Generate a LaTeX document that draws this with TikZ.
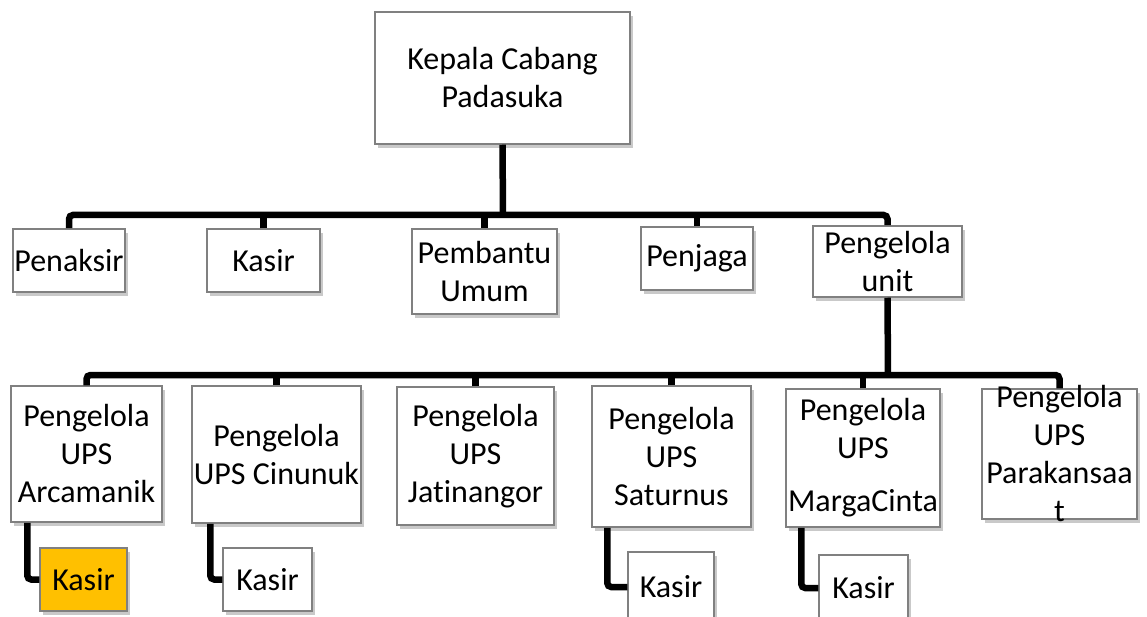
\documentclass[tikz,border=0pt]{standalone}
\usepackage{fontspec}
\setmainfont{Carlito}[Ligatures={NoCommon}]
\usetikzlibrary{shadows}
\definecolor{kasiryellow}{HTML}{FFC000}

\begin{document}
\begin{tikzpicture}[
    x=1pt, y=-1pt,
    every node/.style={font=\fontsize{32}{38}\selectfont, align=center},
    box/.style={rectangle, draw=black!50, line width=1.5pt, fill=white, inner sep=0pt,
                drop shadow={shadow xshift=3pt, shadow yshift=-4pt, fill=black!70, opacity=0.3}},
    cashier/.style={box, fill=kasiryellow},
    link/.style={line width=6.5pt, rounded corners=4pt},
]
    \useasboundingbox (0, 0) rectangle (1147, 617);
    % top
    \node[box, minimum width=255, minimum height=132] (kepala) at (502.5, 78) {Kepala Cabang\\ Padasuka};
    % staff
    \node[box, minimum width=112, minimum height=63] (penaksir) at (69, 260.5) {Penaksir};
    \node[box, minimum width=113, minimum height=63] (kasir) at (263.5, 260.5) {Kasir};
    \node[box, minimum width=145, minimum height=85] (pembantu) at (484.5, 271.5) {Pembantu\\ Umum};
    \node[box, minimum width=112, minimum height=63] (penjaga) at (697, 258.5) {Penjaga};
    \node[box, minimum width=149, minimum height=71] (unit) at (887.5, 261.5) {Pengelola\\ unit};
    % ups
    \node[box, minimum width=151, minimum height=136] (arcamanik) at (86.5, 454) {Pengelola\\ UPS\\ Arcamanik};
    \node[box, minimum width=169, minimum height=137] (cinunuk) at (276.5, 454.5) {Pengelola\\ UPS Cinunuk};
    \node[box, minimum width=157, minimum height=138] (jatinangor) at (475.5, 456) {Pengelola\\ UPS\\ Jatinangor};
    \node[box, minimum width=159, minimum height=141] (saturnus) at (671.5, 456.5) {Pengelola\\ UPS\\ Saturnus};
    \node[box, minimum width=154, minimum height=138] (margacinta) at (863, 458) {Pengelola\\ UPS\\[15pt] MargaCinta};
    \node[box, minimum width=155, minimum height=130, inner ysep=-4pt] (parakansaat) at (1059.5, 454) {Pengelola\\ UPS\\ Parakansaa\\ t};
    % kasir per ups
    \node[cashier, minimum width=87, minimum height=63] (kasira) at (83.5, 579.5) {Kasir};
    \node[box, minimum width=89, minimum height=63] (kasirb) at (267.5, 579.5) {Kasir};
    \node[box, minimum width=86, minimum height=70] (kasirc) at (671, 587) {Kasir};
    \node[box, minimum width=89, minimum height=66] (kasird) at (863.5, 588) {Kasir};

    \coordinate (bus1) at (503, 215);
    \coordinate (bus2) at (888, 375);
    \draw[link] (kepala.south) -- (bus1);
    \draw[link] (penaksir.north) |- (bus1) -| (unit.north);
    \foreach \n in {kasir, pembantu, penjaga}
        \draw[link] (\n.north) -- (\n.north |- bus1);
    \draw[link] (unit.south) -- (bus2);
    \draw[link] (arcamanik.north) |- (bus2) -| (parakansaat.north);
    \foreach \n in {cinunuk, jatinangor, saturnus, margacinta}
        \draw[link] (\n.north) -- (\n.north |- bus2);
    \draw[link] ([xshift=17pt]arcamanik.south west) |- (kasira.west);
    \draw[link] ([xshift=19pt]cinunuk.south west) |- (kasirb.west);
    \draw[link] ([xshift=16pt]saturnus.south west) |- (kasirc.west);
    \draw[link] ([xshift=16pt]margacinta.south west) |- (kasird.west);
\end{tikzpicture}
\end{document}
